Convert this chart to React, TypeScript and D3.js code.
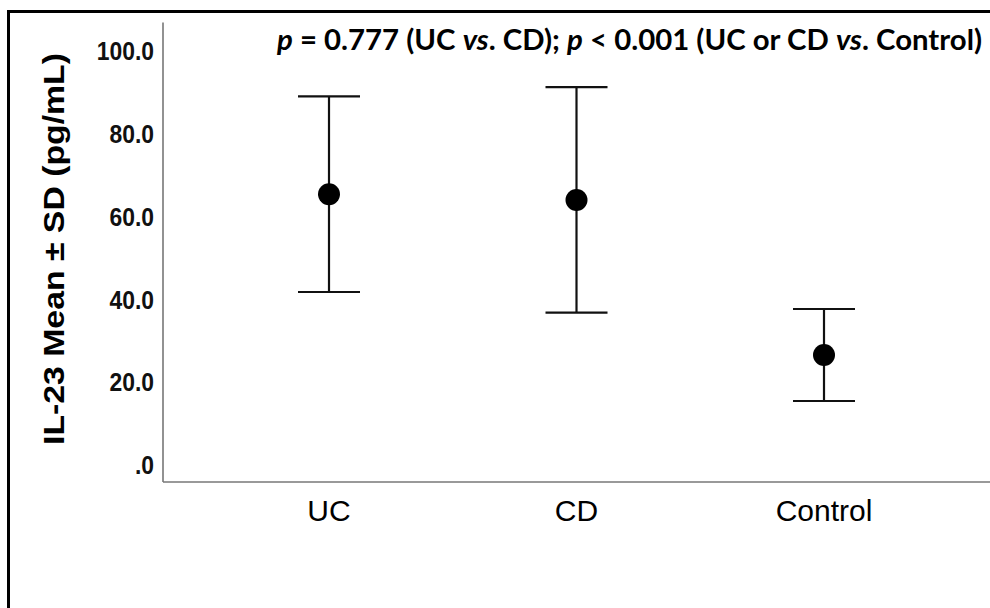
import React from "react";
import * as d3 from "d3";

const categories = ["UC", "CD", "Control"];
const means = [65.1, 63.7, 26.3];
const sds = [23.6, 27.2, 11.1];
const yTicks = [0, 20, 40, 60, 80, 100];
const yLabel = "IL-23 Mean \u00b1 SD (pg/mL)";

const W = 990;
const H = 608;

export default function App() {
  const x = d3.scalePoint<string>().domain(categories).range([329, 824]);
  const y = d3.scaleLinear().domain([0, 100]).range([464, 49.5]);
  const axisLeft = 163;
  const axisBottom = y(-4.35);
  const axisTop = y(106.5);
  const fmt = (v: number) => (v === 0 ? ".0" : d3.format(".1f")(v));
  const capHalf = 31;

  return (
    <svg
      width={W}
      height={H}
      style={{ position: "absolute", left: 0, top: 0, background: "#fff" }}
    >
      <rect x={0} y={0} width={W} height={H} fill="#fff" />
      {/* outer frame */}
      <rect x={8.5} y={11.5} width={1000} height={620} fill="none" stroke="#000" strokeWidth={3} />

      {/* title */}
      <text
        x={277}
        y={50}
        fontFamily="Lato, 'Open Sans', sans-serif"
        fontWeight="bold"
        fontSize={29}
        fill="#000"
        textLength={705}
        lengthAdjust="spacingAndGlyphs"
      >
        <tspan fontStyle="italic">p</tspan>
        <tspan> = 0.777 (UC </tspan>
        <tspan fontStyle="italic">vs</tspan>
        <tspan>. CD); </tspan>
        <tspan fontStyle="italic">p</tspan>
        <tspan> &lt; 0.001 (UC or CD </tspan>
        <tspan fontStyle="italic">vs</tspan>
        <tspan>. Control)</tspan>
      </text>

      {/* axes */}
      <line x1={axisLeft} x2={axisLeft} y1={axisTop} y2={axisBottom} stroke="#777" strokeWidth={1.6} />
      <line x1={axisLeft} x2={W} y1={axisBottom} y2={axisBottom} stroke="#777" strokeWidth={1.6} />

      {/* y tick labels */}
      {yTicks.map((t) => (
        <g key={t} transform={`translate(154, ${y(t) + 1}) scale(0.88, 1)`}>
          <text
            x={0}
            y={0}
            dy="0.36em"
            textAnchor="end"
            fontFamily="'Liberation Sans', Arial, sans-serif"
            fontWeight="bold"
            fontSize={26}
            fill="#111"
          >
            {fmt(t)}
          </text>
        </g>
      ))}

      {/* y axis label */}
      <text
        transform={`translate(64, ${(53 + 445) / 2}) rotate(-90)`}
        textAnchor="middle"
        fontFamily="'Liberation Sans', Arial, sans-serif"
        fontWeight="bold"
        fontSize={29}
        fill="#000"
        textLength={392}
        lengthAdjust="spacingAndGlyphs"
      >
        {yLabel}
      </text>

      {/* x labels */}
      {categories.map((c) => (
        <text
          key={c}
          x={x(c)}
          y={521}
          textAnchor="middle"
          fontFamily="'Liberation Sans', Arial, sans-serif"
          fontSize={30}
          fill="#000"
        >
          {c}
        </text>
      ))}

      {/* error bars */}
      {categories.map((c, i) => {
        const cx = x(c) as number;
        const hi = y(means[i] + sds[i]);
        const lo = y(means[i] - sds[i]);
        return (
          <g key={c} stroke="#111" strokeWidth={2.2}>
            <line x1={cx} x2={cx} y1={hi} y2={lo} />
            <line x1={cx - capHalf} x2={cx + capHalf} y1={hi} y2={hi} />
            <line x1={cx - capHalf} x2={cx + capHalf} y1={lo} y2={lo} />
            <circle cx={cx} cy={y(means[i])} r={11} fill="#000" stroke="none" />
          </g>
        );
      })}
    </svg>
  );
}
